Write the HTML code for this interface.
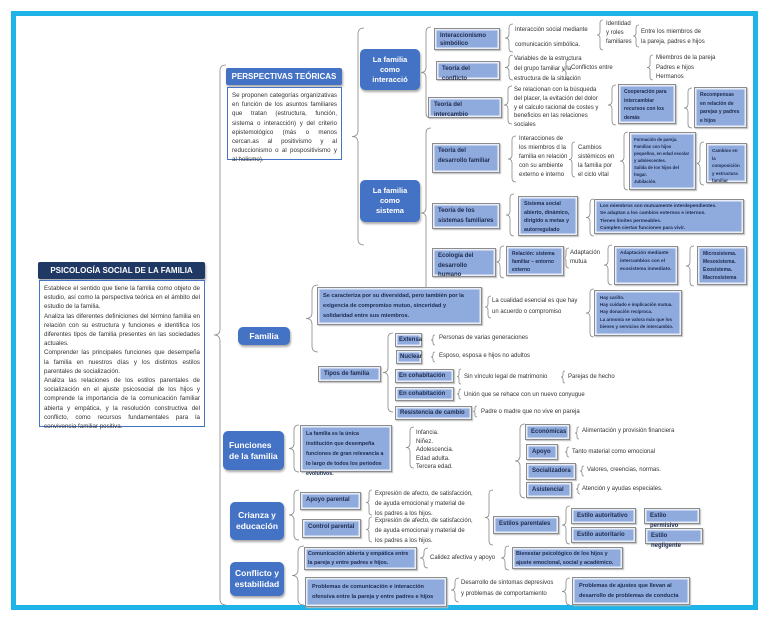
<!DOCTYPE html>
<html><head><meta charset="utf-8"><style>
*{margin:0;padding:0;box-sizing:border-box}
body{width:768px;height:622px;background:#fff;position:relative;overflow:hidden;font-family:"Liberation Sans",sans-serif;}
.frame{position:absolute;left:11px;top:11px;width:747px;height:599px;border:5px solid #1fb4e8;}
.b{position:absolute;background:#8faadc;border:1px solid #8c8c8c;box-shadow:inset 0 0 0 1.5px #e8eef8,1px 1px 1px #bbb;color:#1c2b50;font-weight:bold;font-size:6px;line-height:9.5px;padding:3px 5px;}
.n{position:absolute;background:#4472c4;border-radius:5px;color:#fff;font-weight:bold;font-size:8.5px;line-height:11px;text-align:center;display:flex;align-items:center;justify-content:center;box-shadow:1px 2px 2px #aaa;}
.t{position:absolute;font-size:6px;line-height:9.5px;color:#333;white-space:nowrap}
.w{position:absolute;background:#fff;border:1.5px solid #4472c4;font-size:6.2px;line-height:9.2px;color:#333;padding:3px 4px;text-align:justify}
svg{position:absolute;left:0;top:0}
</style></head><body>
<div class="frame"></div>
<svg id="s" width="768" height="622"></svg>

<div class="n" style="left:38px;top:262px;width:167px;height:17px;background:#1f3864;border-radius:2px;font-size:8px">PSICOLOGÍA SOCIAL DE LA FAMILIA</div>
<div class="w" style="left:39px;top:280px;width:166px;height:147px">Establece el sentido que tiene la familia como objeto de estudio, así como la perspectiva teórica en el ámbito del estudio de la familia.<br>Analiza las diferentes definiciones del término familia en relación con su estructura y funciones e identifica los diferentes tipos de familia presentes en las sociedades actuales.<br>Comprender las principales funciones que desempeña la familia en nuestros días y los distintos estilos parentales de socialización.<br>Analiza las relaciones de los estilos parentales de socialización en el ajuste psicosocial de los hijos y comprende la importancia de la comunicación familiar abierta y empática, y la resolución constructiva del conflicto, como recursos fundamentales para la convivencia familiar positiva.</div>

<div class="n" style="left:226px;top:68px;width:116px;height:17px;border-radius:2px;font-size:8px">PERSPECTIVAS TEÓRICAS</div>
<div class="w" style="left:227px;top:87px;width:115px;height:73px">Se proponen categorías organizativas en función de los asuntos familiares que tratan (estructura, función, sistema o interacción) y del criterio epistemológico (más o menos cercan.as al positivismo y al reduccionismo o al pospositivismo y al holismo).</div>

<div class="n" style="left:360px;top:49px;width:60px;height:41px;font-size:7.5px;line-height:10px">La familia<br>como<br>interacció</div>
<div class="n" style="left:360px;top:180px;width:60px;height:42px;font-size:7.5px;line-height:10px">La familia<br>como<br>sistema</div>

<div class="b" style="left:434px;top:28px;width:66px;height:22px;line-height:8px">Interaccionismo simbólico</div>
<div class="t" style="left:515px;top:26px">Interacción social mediante</div>
<div class="t" style="left:515px;top:41px">comunicación simbólica.</div>
<div class="t" style="left:606px;top:20px;line-height:9px">Identidad<br>y roles<br>familiares</div>
<div class="t" style="left:641px;top:27px;line-height:10px">Entre los miembros de<br>la pareja, padres e hijos</div>
<div class="b" style="left:436px;top:61px;width:64px;height:19px">Teoría del conflicto</div>
<div class="t" style="left:514px;top:54px;line-height:10px">Variables de la estructura<br>del grupo familiar y la<br>estructura de la situación</div>
<div class="t" style="left:571px;top:64px">Conflictos entre</div>
<div class="t" style="left:656px;top:54px;line-height:9.5px">Miembros de la pareja<br>Padres e hijos<br>Hermanos</div>
<div class="b" style="left:428px;top:97px;width:74px;height:21px">Teoría del intercambio</div>
<div class="t" style="left:514px;top:86px;line-height:8.8px">Se relacionan con la búsqueda<br>del placer, la evitación del dolor<br>y el calculo racional de costes y<br>beneficios en las relaciones<br>sociales</div>
<div class="b" style="left:618px;top:84px;width:58px;height:40px;font-size:5px;line-height:8.5px">Cooperación para intercambiar recursos con los demás</div>
<div class="b" style="left:694px;top:87px;width:53px;height:41px;font-size:5px;line-height:8.5px">Recompensas en relación de parejas y padres e hijos</div>

<div class="b" style="left:432px;top:143px;width:68px;height:30px">Teoría del desarrollo familiar</div>
<div class="t" style="left:519px;top:135px;line-height:9px">Interacciones de<br>los miembros d la<br>familia en relación<br>con su ambiente<br>externo e interno</div>
<div class="t" style="left:578px;top:144px;line-height:9px">Cambios<br>sistémicos en<br>la familia por<br>el ciclo vital</div>
<div class="b" style="left:629px;top:132px;width:67px;height:58px;font-size:4.3px;line-height:7px;padding:3px 4px">Formación de pareja.<br>Familias con hijos pequeños, en edad escolar y adolescentes.<br>Salida de los hijos del hogar.<br>Jubilación.</div>
<div class="b" style="left:706px;top:143px;width:41px;height:40px;font-size:4.5px;line-height:7.5px">Cambios en la composición y estructura familiar</div>

<div class="b" style="left:432px;top:203px;width:68px;height:26px">Teoría de los sistemas familiares</div>
<div class="b" style="left:518px;top:196px;width:60px;height:40px;font-size:5.3px;line-height:8.5px">Sistema social abierto, dinámico, dirigido a metas y autorregulado</div>
<div class="b" style="left:594px;top:199px;width:150px;height:35px;font-size:4.8px;line-height:7.3px">Los miembros son mutuamente interdependientes.<br>Se adaptan a los cambios externos e internos.<br>Tienen límites permeables.<br>Cumplen ciertas funciones para vivir.</div>

<div class="b" style="left:432px;top:248px;width:64px;height:29px">Ecología del desarrollo humano</div>
<div class="b" style="left:506px;top:246px;width:58px;height:30px;font-size:5px;line-height:8px">Relación: sistema familiar – entorno externo</div>
<div class="t" style="left:570px;top:249px;line-height:9px">Adaptación<br>mutua</div>
<div class="b" style="left:614px;top:246px;width:64px;height:39px;font-size:4.8px;line-height:8px">Adaptación mediante intercambios con el ecosistema inmediato.</div>
<div class="b" style="left:697px;top:246px;width:50px;height:39px;font-size:5px;line-height:8px">Microsistema. Mesosistema. Exosistema. Macrosistema</div>

<div class="n" style="left:238px;top:327px;width:52px;height:18px">Familia</div>
<div class="b" style="left:317px;top:287px;width:165px;height:38px;font-size:5.6px;line-height:10px">Se caracteriza por su diversidad, pero también por la exigencia de compromiso mutuo, sinceridad y solidaridad entre sus miembros.</div>
<div class="t" style="left:492px;top:296px;line-height:10.5px">La cualidad esencial es que hay<br>un acuerdo o compromiso</div>
<div class="b" style="left:594px;top:290px;width:88px;height:46px;font-size:4.5px;line-height:7.2px">Hay cariño.<br>Hay cuidado e implicación mutua.<br>Hay donación recíproca.<br>La armonía se valora más que los bienes y servicios de intercambio.</div>
<div class="b" style="left:318px;top:366px;width:63px;height:16px">Tipos de familia</div>
<div class="b" style="left:395px;top:333px;width:27px;height:14px;padding:2px 3px">Extensa</div>
<div class="b" style="left:396px;top:350px;width:26px;height:14px;padding:2px 3px">Nuclear</div>
<div class="b" style="left:395px;top:369px;width:59px;height:14px;padding:2px 3px">En cohabitación</div>
<div class="b" style="left:395px;top:387px;width:59px;height:14px;padding:2px 3px">En cohabitación</div>
<div class="b" style="left:395px;top:406px;width:77px;height:14px;padding:2px 4px">Resistencia de cambio</div>
<div class="t" style="left:439px;top:334px">Personas de varias generaciones</div>
<div class="t" style="left:439px;top:352px">Esposo, esposa e hijos no adultos</div>
<div class="t" style="left:464px;top:373px">Sin vínculo legal de matrimonio</div>
<div class="t" style="left:568px;top:373px">Parejas de hecho</div>
<div class="t" style="left:464px;top:391px">Unión que se rehace con un nuevo conyugue</div>
<div class="t" style="left:481px;top:408px">Padre o madre que no vive en pareja</div>

<div class="n" style="left:223px;top:431px;width:61px;height:39px;justify-content:flex-start;text-align:left;padding-left:6px">Funciones<br>de la familia</div>
<div class="b" style="left:300px;top:425px;width:92px;height:47px;font-size:5.3px;line-height:10px">La familia es la única institución que desempeña funciones de gran relevancia a lo largo de todos los periodos evolutivos.</div>
<div class="t" style="left:416px;top:429px;line-height:8.6px">Infancia.<br>Niñez.<br>Adolescencia.<br>Edad adulta.<br>Tercera edad.</div>
<div class="b" style="left:525px;top:424px;width:45px;height:16px">Económicas</div>
<div class="b" style="left:526px;top:444px;width:32px;height:16px">Apoyo</div>
<div class="b" style="left:526px;top:463px;width:50px;height:17px">Socializadora</div>
<div class="b" style="left:526px;top:482px;width:46px;height:16px">Asistencial</div>
<div class="t" style="left:582px;top:427px">Alimentación y provisión financiera</div>
<div class="t" style="left:572px;top:448px">Tanto material como emocional</div>
<div class="t" style="left:587px;top:466px">Valores, creencias, normas.</div>
<div class="t" style="left:582px;top:485px">Atención y ayudas especiales.</div>

<div class="n" style="left:230px;top:502px;width:54px;height:38px">Crianza y<br>educación</div>
<div class="b" style="left:300px;top:492px;width:61px;height:18px">Apoyo parental</div>
<div class="b" style="left:302px;top:519px;width:59px;height:19px">Control parental</div>
<div class="t" style="left:375px;top:489px;line-height:10px">Expresión de afecto, de satisfacción,<br>de ayuda emocional y material de<br>los padres a los hijos.</div>
<div class="t" style="left:375px;top:516px;line-height:10px">Expresión de afecto, de satisfacción,<br>de ayuda emocional y material de<br>los padres a los hijos.</div>
<div class="b" style="left:493px;top:516px;width:66px;height:18px">Estilos parentales</div>
<div class="b" style="left:571px;top:508px;width:65px;height:16px">Estilo autoritativo</div>
<div class="b" style="left:644px;top:508px;width:56px;height:16px">Estilo permisivo</div>
<div class="b" style="left:571px;top:527px;width:65px;height:16px">Estilo autoritario</div>
<div class="b" style="left:645px;top:528px;width:58px;height:16px">Estilo negligente</div>

<div class="n" style="left:230px;top:562px;width:54px;height:34px">Conflicto y<br>estabilidad</div>
<div class="b" style="left:304px;top:547px;width:113px;height:23px;font-size:5.4px;line-height:8.5px;padding:2px 3px">Comunicación abierta y empática entre la pareja y entre padres e hijos.</div>
<div class="t" style="left:430px;top:554px">Calidez afectiva y apoyo</div>
<div class="b" style="left:512px;top:547px;width:111px;height:22px;font-size:5.4px;line-height:8.5px;padding:2px 3px">Bienestar psicológico de los hijos y ajuste emocional, social y académico.</div>
<div class="b" style="left:305px;top:577px;width:142px;height:30px;font-size:5.6px;line-height:10px;padding:4px 6px">Problemas de comunicación e interacción ofensiva entre la pareja y entre padres e hijos</div>
<div class="t" style="left:461px;top:578px;line-height:10.5px">Desarrollo de síntomas depresivos<br>y problemas de comportamiento</div>
<div class="b" style="left:572px;top:577px;width:118px;height:28px;font-size:5.6px;line-height:10px;padding:3px 6px">Problemas de ajustes que llevan al desarrollo de problemas de conducta</div>

<script>
var br=[[220,65,605,6],[358,28,245,6],[426,27,118,5],[426,128,298,5],[509,24,52,4],[600,20,50,3],[636,25,47,3],[509,55,80,4],[566,60,80,3],[650,55,80,3],[508,86,124,4],[612,85,125,4],[688,88,128,4],
[512,136,182,4],[572,142,177,3],[624,132,190,4],[700,142,185,4],[510,194,236,4],[590,199,236,4],[500,246,278,4],[566,248,268,3],[608,245,285,4],[690,246,286,4],
[312,285,352,6],[488,296,318,3],[590,289,337,4],[388,333,412,5],[433,335,345,2],[433,352,362,2],[459,369,384,2],[563,371,383,2],[459,389,399,2],[475,406,417,2],
[294,425,472,5],[410,427,468,4],[520,424,498,5],[577,427,439,2],[567,447,457,2],[582,466,476,2],[578,484,494,2],
[294,490,540,5],[369,490,515,3],[369,517,542,3],[489,490,545,4],[566,506,544,4],[298,546,605,6],[424,548,568,4],[505,546,570,4],[455,578,602,4],[566,578,605,4]];
var s=document.getElementById('s'),h='';
br.forEach(function(b){var x=b[0],y1=b[1],y2=b[2],w=b[3],m=(y1+y2)/2,r=Math.min(w,(y2-y1)/4);
h+='<path d="M'+(x+w)+' '+y1+' Q'+x+' '+y1+' '+x+' '+(y1+r)+' L'+x+' '+(m-r)+' Q'+x+' '+m+' '+(x-w)+' '+m+' Q'+x+' '+m+' '+x+' '+(m+r)+' L'+x+' '+(y2-r)+' Q'+x+' '+y2+' '+(x+w)+' '+y2+'" fill="none" stroke="#888" stroke-width="0.8"/>';});
s.innerHTML=h;
</script>
</body></html>
